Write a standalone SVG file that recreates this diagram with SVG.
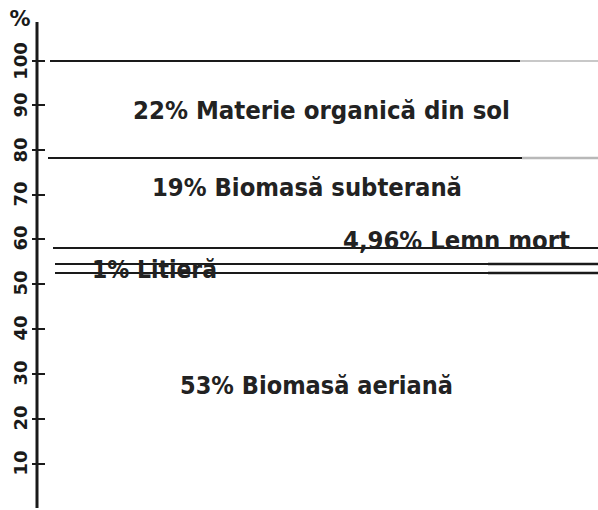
<svg xmlns="http://www.w3.org/2000/svg" width="598" height="510" viewBox="0 0 598 510">
<style>
.ax{stroke:#1a1a1a;stroke-width:3;fill:none}
.tk{stroke:#1a1a1a;stroke-width:2}
.ln{stroke:#1a1a1a;stroke-width:1.8}
.gr{stroke:#b8b8b8;stroke-width:2.5}
.tl{font-family:"DejaVu Sans",sans-serif;font-weight:bold;font-size:18px;fill:#1a1a1a;text-anchor:middle}
.lb{font-family:"DejaVu Sans",sans-serif;font-weight:bold;font-size:24px;fill:#222}
</style>
<rect width="598" height="510" fill="#fff"/>
<g id="axis">
<line class="ax" x1="37" y1="22" x2="37" y2="508"/>
<line class="tk" x1="32" y1="61" x2="45" y2="61"/>
<line class="tk" x1="32" y1="105" x2="45" y2="105"/>
<line class="tk" x1="32" y1="150" x2="45" y2="150"/>
<line class="tk" x1="32" y1="195" x2="45" y2="195"/>
<line class="tk" x1="32" y1="239" x2="45" y2="239"/>
<line class="tk" x1="32" y1="284" x2="45" y2="284"/>
<line class="tk" x1="32" y1="329" x2="45" y2="329"/>
<line class="tk" x1="32" y1="374" x2="45" y2="374"/>
<line class="tk" x1="32" y1="419" x2="45" y2="419"/>
<line class="tk" x1="32" y1="464" x2="45" y2="464"/>
<text class="tl" transform="translate(27,61) rotate(-90)">100</text>
<text class="tl" transform="translate(27,105) rotate(-90)">90</text>
<text class="tl" transform="translate(27,150) rotate(-90)">80</text>
<text class="tl" transform="translate(27,194) rotate(-90)">70</text>
<text class="tl" transform="translate(27,238) rotate(-90)">60</text>
<text class="tl" transform="translate(27,283) rotate(-90)">50</text>
<text class="tl" transform="translate(27,328) rotate(-90)">40</text>
<text class="tl" transform="translate(27,373) rotate(-90)">30</text>
<text class="tl" transform="translate(27,418) rotate(-90)">20</text>
<text class="tl" transform="translate(27,463) rotate(-90)">10</text>
<text class="tl" x="20" y="26" style="font-size:21px">%</text>
</g>
<g id="lines">
<line class="ln" x1="50" y1="61" x2="598" y2="61"/>
<line class="gr" x1="520" y1="61" x2="598" y2="61" style="stroke:#c8c8c8;stroke-width:2"/>
<line class="ln" x1="48" y1="158" x2="598" y2="158"/>
<line class="gr" x1="522" y1="158" x2="598" y2="158"/>
<line class="ln" x1="53" y1="248" x2="598" y2="248"/>
<line class="ln" x1="55" y1="264" x2="598" y2="264"/>
<line class="ln" x1="488" y1="264" x2="598" y2="264" style="stroke-width:2.5"/>
<line class="ln" x1="55" y1="273" x2="598" y2="273"/>
<line class="ln" x1="488" y1="273" x2="598" y2="273" style="stroke-width:2.5"/>
</g>
<g id="soil">
<text class="lb" x="133" y="119" textLength="377" lengthAdjust="spacingAndGlyphs">22% Materie organică din sol</text>
</g>
<g id="below">
<text class="lb" x="152" y="196" textLength="310" lengthAdjust="spacingAndGlyphs">19% Biomasă subterană</text>
</g>
<g id="deadwood">
<text class="lb" x="343" y="249" textLength="227" lengthAdjust="spacingAndGlyphs">4,96% Lemn mort</text>
</g>
<g id="litter">
<text class="lb" x="92" y="278" textLength="125" lengthAdjust="spacingAndGlyphs">1% Litieră</text>
</g>
<g id="above">
<text class="lb" x="180" y="394" textLength="273" lengthAdjust="spacingAndGlyphs">53% Biomasă aeriană</text>
</g>
</svg>
